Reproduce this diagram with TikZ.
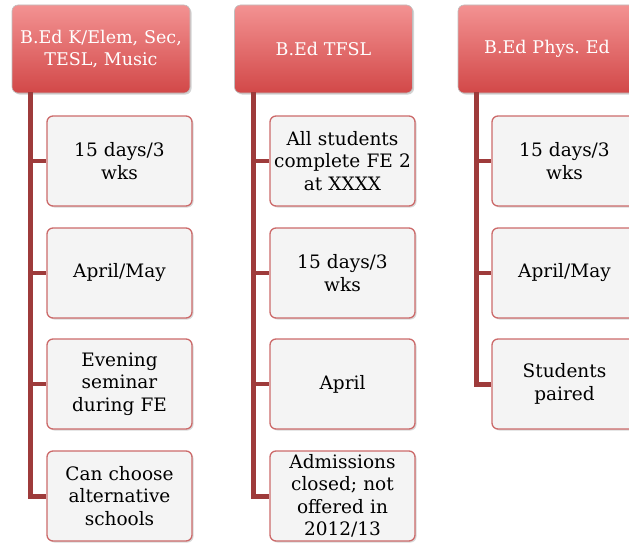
\documentclass[tikz,border=0pt]{standalone}
\usepackage{fontspec}
\setmainfont{DejaVu Serif}
\usetikzlibrary{shadows}
\definecolor{trunkc}{HTML}{9E3B3B}
\definecolor{hdrtop}{HTML}{F39292}
\definecolor{hdrbot}{HTML}{D24848}
\definecolor{childbd}{HTML}{CC6A6A}
\definecolor{childfill}{HTML}{F4F4F4}
\tikzset{
  hdr/.style={rounded corners=6pt, top color=hdrtop, bottom color=hdrbot, draw=gray!50,
    line width=0.6pt, text=white, minimum width=178pt, minimum height=88pt,
    text width=174pt, align=center, font=\fontsize{17.5}{22}\selectfont, inner sep=0pt,
    drop shadow={shadow xshift=1.5pt, shadow yshift=-1.5pt, opacity=0.35}},
  child/.style={rounded corners=6pt, fill=childfill, draw=childbd, line width=1.3pt,
    minimum width=145pt, minimum height=90pt, text width=141pt, align=center,
    font=\fontsize{18.5}{22.5}\selectfont, inner sep=0pt,
    drop shadow={shadow xshift=1.5pt, shadow yshift=-1.5pt, opacity=0.3}},
  trunk/.style={draw=trunkc, line width=5pt},
  branch/.style={draw=trunkc, line width=4pt}
}
\begin{document}
\begin{tikzpicture}[x=1pt,y=1pt]
\useasboundingbox (0,0) rectangle (629,-543);
\clip (0,0) rectangle (629,-543);
% headers
\node[hdr] (h1) at (101,-49) {B.Ed K/Elem, Sec,\\TESL, Music};
\node[hdr] (h2) at (323.5,-49) {B.Ed TFSL};
\node[hdr] (h3) at (547,-49) {B.Ed Phys.\ Ed};
% trunk start points
\coordinate (t1) at (30,-92);
\coordinate (t2) at (253,-92);
\coordinate (t3) at (476,-92);
% column 1
\node[child] (a1) at (119.5,-161) {15 days/3\\wks};
\node[child] (a2) at (119.5,-273) {April/May};
\node[child] (a3) at (119.5,-384) {Evening\\seminar\\during FE};
\node[child] (a4) at (119.5,-496) {Can choose\\alternative\\schools};
% column 2
\node[child] (b1) at (342.5,-161) {All students\\complete FE 2\\at XXXX};
\node[child] (b2) at (342.5,-273) {15 days/3\\wks};
\node[child] (b3) at (342.5,-384) {April};
\node[child] (b4) at (342.5,-496) {Admissions\\closed; not\\offered in\\2012/13};
% column 3
\node[child] (c1) at (564.5,-161) {15 days/3\\wks};
\node[child] (c2) at (564.5,-273) {April/May};
\node[child] (c3) at (564.5,-384) {Students\\paired};
% connectors
\draw[trunk] (t1) |- (a4.west);
\draw[branch] (t1) |- (a1.west);
\draw[branch] (t1) |- (a2.west);
\draw[branch] (t1) |- (a3.west);
\draw[trunk] (t2) |- (b4.west);
\draw[branch] (t2) |- (b1.west);
\draw[branch] (t2) |- (b2.west);
\draw[branch] (t2) |- (b3.west);
\draw[trunk] (t3) |- (c3.west);
\draw[branch] (t3) |- (c1.west);
\draw[branch] (t3) |- (c2.west);
\end{tikzpicture}
\end{document}
